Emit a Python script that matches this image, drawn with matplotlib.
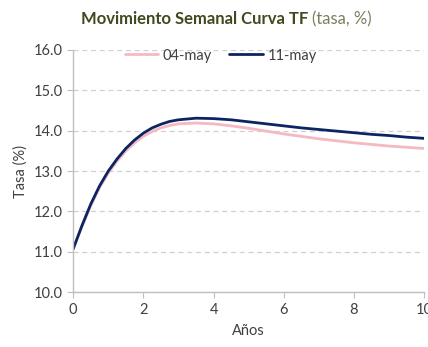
import matplotlib
matplotlib.use("Agg")
import matplotlib.pyplot as plt

anos = [0, 0.25, 0.5, 0.75, 1, 1.25, 1.5, 1.75, 2, 2.25, 2.5, 2.75, 3, 3.5, 4, 4.5, 5, 5.5,
        6, 6.5, 7, 7.5, 8, 8.5, 9, 9.5, 10]
may04 = [11.07, 11.62, 12.14, 12.59, 12.95, 13.25, 13.50, 13.70, 13.86, 13.98, 14.07, 14.13, 14.17,
         14.19, 14.17, 14.12, 14.06, 13.99, 13.92, 13.86, 13.80, 13.75, 13.70, 13.66, 13.62, 13.59, 13.56]
may11 = [11.07, 11.65, 12.18, 12.63, 13.00, 13.30, 13.56, 13.77, 13.94, 14.07, 14.16, 14.23, 14.27,
         14.31, 14.30, 14.27, 14.22, 14.17, 14.12, 14.07, 14.03, 13.99, 13.95, 13.91, 13.88, 13.84, 13.81]
series_labels = ["04-may", "11-may"]
yticks = [10, 11, 12, 13, 14, 15, 16]
xticks = [0, 2, 4, 6, 8, 10]

plt.rcParams['font.family'] = ['Lato', 'DejaVu Sans']

fig = plt.figure(figsize=(4.28, 3.47), dpi=100)
ax = fig.add_axes([0.171, 0.158, 0.82, 0.698])

ax.plot(anos, may04, color='#f4b9c2', lw=2.0, label=series_labels[0], solid_capstyle='round')
ax.plot(anos, may11, color='#0c2462', lw=2.0, label=series_labels[1], solid_capstyle='round')

ax.set_xlim(0, 10)
ax.set_ylim(10, 16)
ax.set_yticks(yticks)
ax.set_yticklabels([f"{v:.1f}" for v in yticks])
ax.set_xticks(xticks)
ax.grid(axis='y', color='#d0d0d0', linestyle=(0, (4, 3)), lw=0.9)
ax.set_axisbelow(True)
for s in ['top', 'right']:
    ax.spines[s].set_visible(False)
for s in ['left', 'bottom']:
    ax.spines[s].set_color('#bfbfbf')
    ax.spines[s].set_linewidth(1.0)
ax.tick_params(axis='both', colors='#bfbfbf', labelcolor='#404040', labelsize=10.5, length=4)
ax.set_xlabel("Años", fontsize=10.5, color='#404040', labelpad=5)
ax.set_ylabel("Tasa (%)", fontsize=10.5, color='#404040', labelpad=4)

leg = ax.legend(loc='upper center', bbox_to_anchor=(0.42, 1.06), ncol=2, frameon=False,
                fontsize=10.5, handlelength=2.3, handletextpad=0.3, columnspacing=1.2)
for t in leg.get_texts():
    t.set_color('#404040')

t1 = fig.text(0.19, 0.945, "Movimiento Semanal Curva TF", fontsize=12, fontweight='bold',
              color='#3f4a1e', ha='left', va='center')
fig.canvas.draw()
bb = t1.get_window_extent()
x_end = bb.x1 / fig.bbox.width
fig.text(x_end + 0.008, 0.945, "(tasa, %)", fontsize=12, color='#7a7f5e', ha='left', va='center')

fig.savefig("out.png", dpi=100)
